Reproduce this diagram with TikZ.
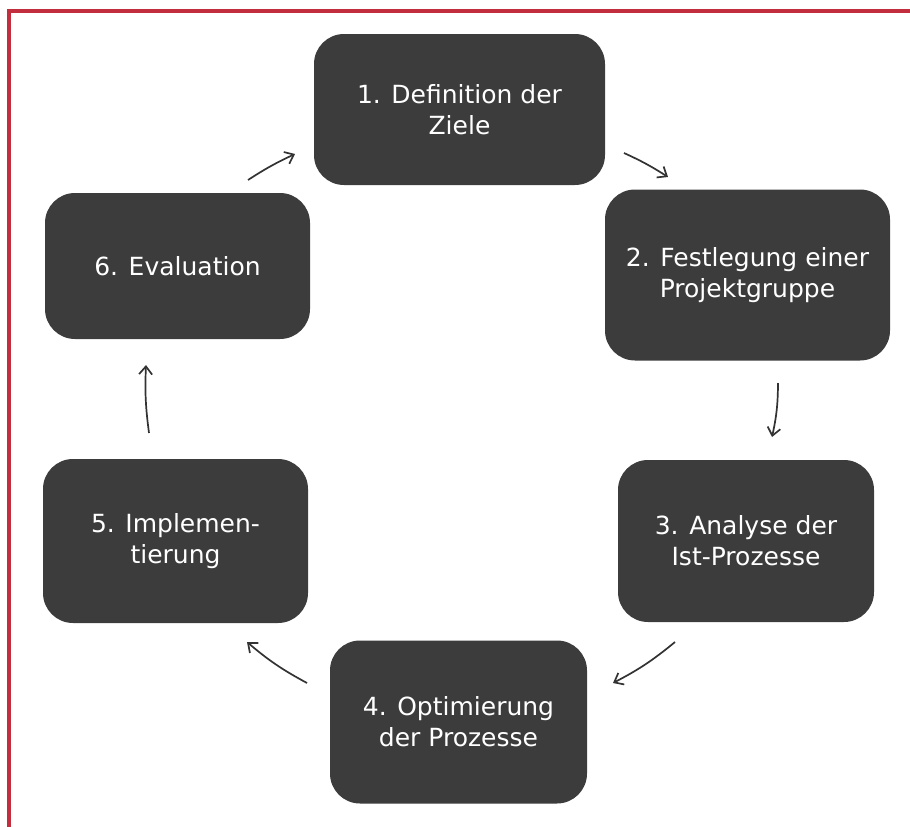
\documentclass[tikz,border=0pt]{standalone}
\usepackage{fontspec}
\setmainfont{DejaVu Sans}
\usetikzlibrary{arrows.meta}

\definecolor{boxgray}{HTML}{3C3C3C}
\definecolor{framered}{HTML}{C22E3E}
\definecolor{arrowgray}{HTML}{333333}

\tikzset{
  stage/.style={fill=boxgray, rounded corners=30pt, text=white, align=center,
    font=\fontsize{25}{31}\selectfont, inner sep=0pt},
  flow/.style={-{Straight Barb[length=8pt,width=13pt]}, color=arrowgray, line width=1.7pt}
}

\begin{document}
\begin{tikzpicture}[x=1pt,y=1pt]

\useasboundingbox (0,0) rectangle (910,-827);
\draw[framered, line width=3.2pt] (9,-827) -- (9,-11) -- (910,-11);

\node[stage, minimum width=291pt, minimum height=151pt] (ziele) at (459.5,-109.5) {1. Definition der\\Ziele};
\node[stage, minimum width=285pt, minimum height=171pt] (gruppe) at (747.5,-275) {2. Festlegung einer\\Projektgruppe};
\node[stage, minimum width=256pt, minimum height=162pt] (analyse) at (746,-541) {3. Analyse der\\Ist-Prozesse};
\node[stage, minimum width=257pt, minimum height=163pt] (optim) at (458.5,-722) {4. Optimierung\\der Prozesse};
\node[stage, minimum width=265pt, minimum height=164pt] (impl) at (175.5,-541) {5. Implemen-\\tierung};
\node[stage, minimum width=265pt, minimum height=146pt] (eval) at (177.5,-266) {6. Evaluation};

\coordinate (a1s) at (624,-153);
\coordinate (a1e) at (668,-177);
\coordinate (a2s) at (778,-383);
\coordinate (a2e) at (772,-437);
\coordinate (a3s) at (675,-642);
\coordinate (a3e) at (613,-683);
\coordinate (a4s) at (307,-683);
\coordinate (a4e) at (247,-642);
\coordinate (a5s) at (149,-433);
\coordinate (a5e) at (146,-365);
\coordinate (a6s) at (248,-180);
\coordinate (a6e) at (295,-154);

\path[flow] (a1s) edge[bend left=4] (a1e);
\path[flow] (a2s) edge[bend left=6] (a2e);
\path[flow] (a3s) edge[bend left=6] (a3e);
\path[flow] (a4s) edge[bend left=6] (a4e);
\path[flow] (a5s) edge[bend left=5] (a5e);
\path[flow] (a6s) edge[bend left=4] (a6e);

\end{tikzpicture}
\end{document}
